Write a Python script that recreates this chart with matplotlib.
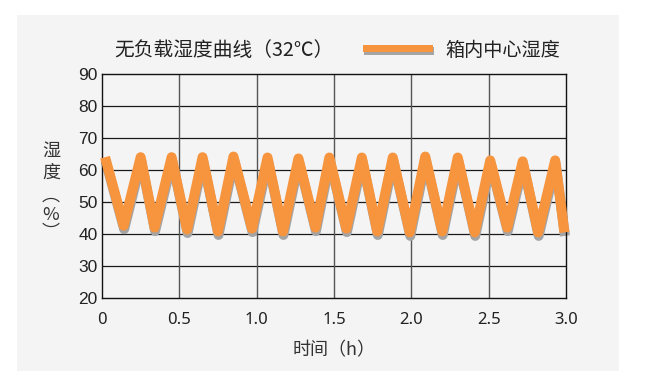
import matplotlib
matplotlib.use('Agg')
import matplotlib.pyplot as plt
from matplotlib.patches import Rectangle
from matplotlib.transforms import offset_copy

# ---- data ----
time_h = [0.02, 0.14, 0.25, 0.34, 0.45, 0.55, 0.65, 0.75, 0.85, 0.97,
          1.07, 1.17, 1.27, 1.38, 1.47, 1.58, 1.68, 1.78, 1.88, 1.99,
          2.09, 2.20, 2.30, 2.41, 2.51, 2.62, 2.72, 2.82, 2.93, 2.99]
humidity = [64.0, 42.6, 64.0, 42.0, 64.0, 41.4, 64.0, 40.8, 64.2, 41.7,
            63.9, 40.8, 63.6, 42.0, 63.9, 41.7, 63.9, 40.8, 63.9, 40.5,
            64.2, 40.8, 63.9, 40.5, 63.0, 42.0, 62.7, 40.5, 63.0, 40.5]
x_ticks = [0, 0.5, 1.0, 1.5, 2.0, 2.5, 3.0]
x_tick_labels = ['0', '0.5', '1.0', '1.5', '2.0', '2.5', '3.0']
y_ticks = [20, 30, 40, 50, 60, 70, 80, 90]
title_text = '无负载湿度曲线（32℃）'
legend_label = '箱内中心湿度'
x_label = '时间（h）'
y_label_chars = ['湿', '度', '︵', '%', '︶']

ORANGE = '#F7943E'
SHADOW = '#A4A4A4'
CJK = ['Noto Sans CJK SC', 'DejaVu Sans']

W, H = 646, 387
fig = plt.figure(figsize=(W / 100, H / 100), dpi=100)
fig.patch.set_facecolor('white')

def fx(px):
    return px / W

def fy(py):
    return 1 - py / H

# light gray panel (behind everything)
fig.patches.append(Rectangle((fx(17), fy(371)), fx(619) - fx(17), fy(15) - fy(371),
                             transform=fig.transFigure, facecolor='#F4F4F5',
                             edgecolor='none', zorder=-10))

ax = fig.add_axes([fx(102), fy(298), fx(566) - fx(102), fy(74) - fy(298)])
ax.set_zorder(1)
ax.set_facecolor('none')
ax.set_xlim(0, 3.0)
ax.set_ylim(20, 90)
ax.set_xticks(x_ticks)
ax.set_xticklabels(x_tick_labels, fontfamily='Noto Sans', fontsize=12, color='#222222')
ax.set_yticks(y_ticks)
ax.set_yticklabels([str(v) for v in y_ticks], fontfamily='Liberation Sans', fontsize=12.5,
                   color='#222222')
ax.tick_params(axis='x', length=0, pad=10)
ax.tick_params(axis='y', length=0, pad=3)
for s in ax.spines.values():
    s.set_color('#111111')
    s.set_linewidth(1.0)

for v in y_ticks[1:-1]:
    ax.axhline(v, color='#1a1a1a', lw=0.9, zorder=1)
for t in x_ticks[1:-1]:
    ax.axvline(t, color='#555555', lw=1.0, zorder=1)

shadow_tr = offset_copy(ax.transData, fig=fig, x=0.5, y=-3.5, units='dots')
ax.plot(time_h, humidity, color=SHADOW, lw=7.2, solid_joinstyle='round',
        solid_capstyle='butt', transform=shadow_tr, zorder=2, clip_on=False)
ax.plot(time_h, humidity, color=ORANGE, lw=7.2, solid_joinstyle='round',
        solid_capstyle='butt', zorder=3, clip_on=False)

# title
fig.text(fx(114), fy(51), title_text, fontfamily=CJK, fontsize=14.2, color='#222222',
         ha='left', va='center')
# legend
fig.patches.append(Rectangle((fx(364), fy(54.5)), fx(70), fy(0) - fy(7.5),
                             transform=fig.transFigure, facecolor=SHADOW,
                             edgecolor='none', zorder=2))
fig.patches.append(Rectangle((fx(363), fy(52)), fx(70), fy(0) - fy(7),
                             transform=fig.transFigure, facecolor=ORANGE,
                             edgecolor='none', zorder=3))
fig.text(fx(445), fy(50), legend_label, fontfamily=CJK, fontsize=13.8, color='#222222',
         ha='left', va='center')

# axis labels
fig.text(fx(334), fy(350), x_label, fontfamily=CJK, fontsize=13, color='#333333',
         ha='center', va='center')
for ch, yc in zip(y_label_chars, [151, 173, 196, 215, 233]):
    fig.text(fx(51), fy(yc), ch, fontfamily=CJK, fontsize=13, color='#333333',
             ha='center', va='center')

fig.savefig('out.png', dpi=100, facecolor='white')
